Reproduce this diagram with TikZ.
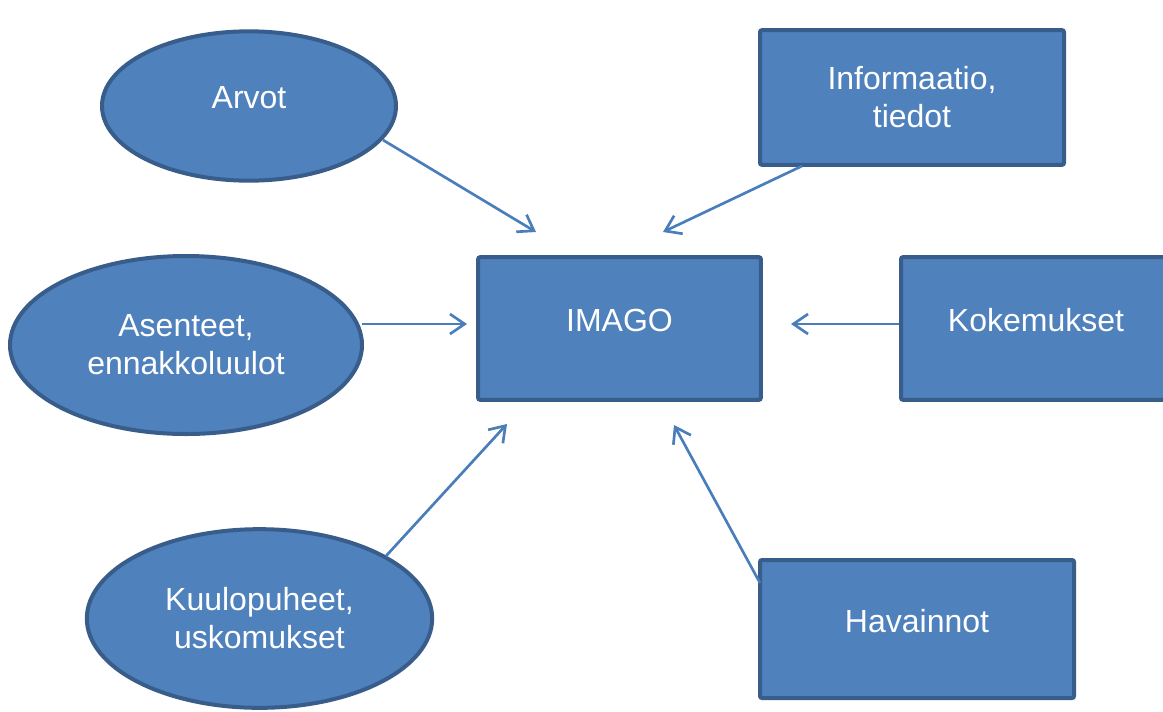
\documentclass[tikz,border=0pt]{standalone}
\usepackage{fontspec}
\setmainfont{Liberation Sans}
\usetikzlibrary{shapes.geometric,arrows.meta}
\definecolor{boxfill}{HTML}{4F81BD}
\definecolor{boxline}{HTML}{385D8A}
\definecolor{arrowcol}{HTML}{4A7EBB}
\tikzset{
  shapebase/.style={fill=boxfill, draw=boxline, line width=3pt, text=white,
    font=\fontsize{24}{28.5}\selectfont, align=center, inner sep=0pt},
  box/.style={shapebase, rectangle, rounded corners=1.5pt},
  oval/.style={shapebase, ellipse},
  oneline/.style={text depth=12.8pt},
  conn/.style={draw=arrowcol, line width=2pt, -{Straight Barb[length=11pt,width=15pt]}}
}
\begin{document}
\begin{tikzpicture}[x=0.75pt,y=-0.75pt]
\useasboundingbox (0,0) rectangle (1163,711);
% ellipses
\node[oval, oneline, minimum width=220.5pt, minimum height=112pt] (arvot) at (249,106) {Arvot};
\node[oval, minimum width=264pt, minimum height=133.5pt] (asenteet) at (186,345) {Asenteet,\\ennakkoluulot};
\node[oval, minimum width=259pt, minimum height=134pt] (kuulo) at (259.5,618.5) {Kuulopuheet,\\uskomukset};
% rectangles
\node[box, oneline, minimum width=212pt, minimum height=107pt] (imago) at (619.5,328.5) {IMAGO};
\node[box, minimum width=228pt, minimum height=101pt] (info) at (912,97.5) {Informaatio,\\tiedot};
\node[box, oneline, minimum width=202.5pt, minimum height=107pt] (koke) at (1036,328.5) {Kokemukset};
\node[box, oneline, minimum width=235.5pt, minimum height=103.5pt] (hava) at (917,629) {Havainnot};
% arrow end points
\coordinate (s1) at (383,140); \coordinate (e1) at (536,232);
\coordinate (s2) at (802,166); \coordinate (e2) at (663,232);
\coordinate (s3) at (362,324); \coordinate (e3) at (467,324);
\coordinate (s4) at (899,324); \coordinate (e4) at (791,324);
\coordinate (s5) at (386,556); \coordinate (e5) at (507,424);
\coordinate (s6) at (760,583); \coordinate (e6) at (674,425);
\draw[conn] (s1) -- (e1);
\draw[conn] (s2) -- (e2);
\draw[conn] (s3) -- (e3);
\draw[conn] (s4) -- (e4);
\draw[conn] (s5) -- (e5);
\draw[conn] (s6) -- (e6);
\end{tikzpicture}
\end{document}
